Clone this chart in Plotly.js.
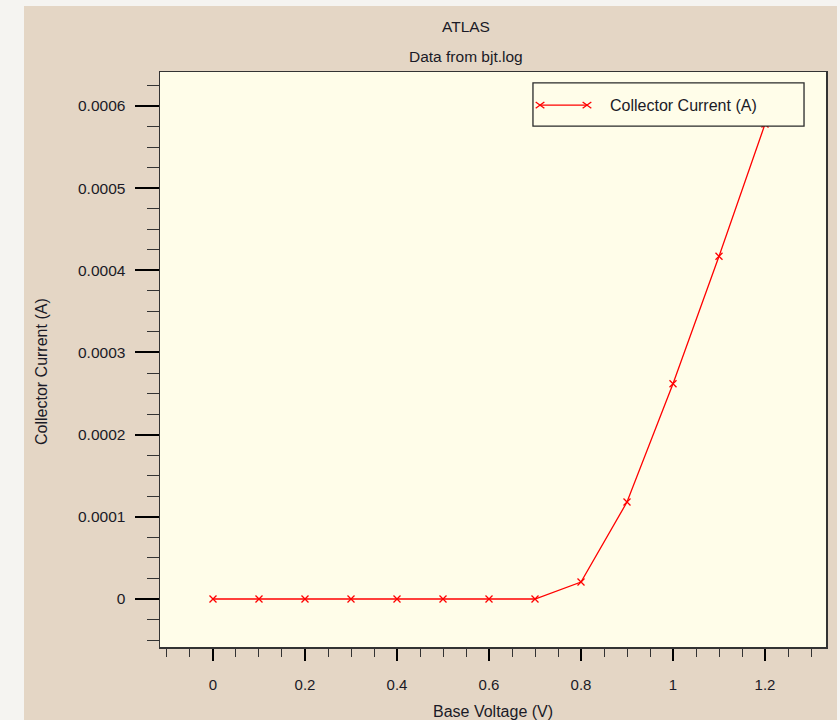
<!DOCTYPE html>
<html>
<head>
<meta charset="utf-8">
<script src="https://cdn.plot.ly/plotly-3.0.1.min.js"></script>
<style>
html, body { margin: 0; padding: 0; background: #f5f4f1; width: 840px; height: 720px; overflow: hidden; }
#chart { position: absolute; left: 24px; top: 6px; width: 813px; height: 714px; }
</style>
</head>
<body>
<div id="chart"></div>
<script>
// ---- data ----
const baseVoltage = [0, 0.1, 0.2, 0.3, 0.4, 0.5, 0.6, 0.7, 0.8, 0.9, 1.0, 1.1, 1.2];
const collectorCurrent = [0, 0, 0, 0, 0, 0, 0, 0, 0.0000207, 0.000118, 0.000262, 0.000417, 0.000578];
const seriesName = 'Collector Current (A)';
const titleText = 'ATLAS';
const subtitleText = 'Data from bjt.log';
const xTitle = 'Base Voltage (V)';
const yTitle = 'Collector Current (A)';

const FONT = 'Liberation Sans, Arial, sans-serif';
const TXT = '#1a1a26';
const RED = '#ff0000';

const trace = {
  x: baseVoltage,
  y: collectorCurrent,
  name: seriesName,
  type: 'scatter',
  mode: 'lines+markers',
  line: { color: RED, width: 1.3 },
  marker: { symbol: 'x-thin', size: 7, line: { color: RED, width: 1.3 }, color: RED },
  showlegend: false
};

// legend geometry (paper coordinates)
const lgX0 = 0.560, lgX1 = 0.967, lgY0 = 0.906, lgY1 = 0.981;
const lsX0 = 0.5706, lsX1 = 0.6411, lsY = 0.9425;
const mdx = 0.0065, mdy = 0.0055;
function xMark(cx, cy) {
  return [
    { type: 'line', xref: 'paper', yref: 'paper', x0: cx - mdx, x1: cx + mdx, y0: cy - mdy, y1: cy + mdy, line: { color: RED, width: 1.3 } },
    { type: 'line', xref: 'paper', yref: 'paper', x0: cx - mdx, x1: cx + mdx, y0: cy + mdy, y1: cy - mdy, line: { color: RED, width: 1.3 } }
  ];
}

const shapes = [
  { type: 'rect', xref: 'paper', yref: 'paper', x0: lgX0, x1: lgX1, y0: lgY0, y1: lgY1,
    line: { color: '#2a2a2a', width: 1.3 }, fillcolor: '#fffde9' },
  { type: 'line', xref: 'paper', yref: 'paper', x0: lsX0, x1: lsX1, y0: lsY, y1: lsY, line: { color: RED, width: 1.3 } }
].concat(xMark(lsX0, lsY), xMark(lsX1, lsY));

const layout = {
  width: 813,
  height: 714,
  margin: { l: 136, r: 11, t: 66, b: 73, pad: 0 },
  paper_bgcolor: '#e4d6c5',
  plot_bgcolor: '#fffde9',
  font: { family: FONT, size: 15, color: TXT },
  showlegend: false,
  xaxis: {
    range: [-0.1152, 1.3326],
    tickmode: 'linear', tick0: 0, dtick: 0.2,
    ticks: 'outside', ticklen: 12, tickwidth: 2, tickcolor: '#000',
    minor: { tick0: 0, dtick: 0.05, ticks: 'outside', ticklen: 8, tickwidth: 1, tickcolor: '#333', showgrid: false },
    showgrid: false, zeroline: false,
    showline: true, mirror: true, linecolor: '#333', linewidth: 1.5,
    tickfont: { family: FONT, size: 15, color: TXT },
    ticklabelstandoff: 11,
    fixedrange: true
  },
  yaxis: {
    range: [-0.0000584, 0.0006413],
    tickmode: 'linear', tick0: 0, dtick: 0.0001,
    tickformat: '.4~f',
    ticks: 'outside', ticklen: 24, tickwidth: 2, tickcolor: '#000',
    minor: { tick0: 0, dtick: 0.000025, ticks: 'outside', ticklen: 12, tickwidth: 1, tickcolor: '#333', showgrid: false },
    showgrid: false, zeroline: false,
    showline: true, mirror: true, linecolor: '#333', linewidth: 1.5,
    tickfont: { family: FONT, size: 15.5, color: TXT },
    ticklabelstandoff: 6,
    fixedrange: true
  },
  shapes: shapes,
  annotations: [
    { text: titleText, xref: 'paper', yref: 'paper', x: 0.4595, y: 1.0783, xanchor: 'center', yanchor: 'middle', showarrow: false, font: { family: FONT, size: 15.5, color: TXT } },
    { text: subtitleText, xref: 'paper', yref: 'paper', x: 0.4595, y: 1.0278, xanchor: 'center', yanchor: 'middle', showarrow: false, font: { family: FONT, size: 15.5, color: TXT } },
    { text: xTitle, xref: 'paper', yref: 'paper', x: 0.5, y: -0.113, xanchor: 'center', yanchor: 'middle', showarrow: false, font: { family: FONT, size: 16, color: TXT } },
    { text: yTitle, xref: 'paper', yref: 'paper', x: -0.1787, y: 0.48, xanchor: 'center', yanchor: 'middle', textangle: -90, showarrow: false, font: { family: FONT, size: 16, color: TXT } },
    { text: seriesName, xref: 'paper', yref: 'paper', x: 0.6727, y: lsY, xanchor: 'left', yanchor: 'middle', showarrow: false, font: { family: FONT, size: 16, color: TXT } }
  ]
};

Plotly.newPlot('chart', [trace], layout, { displayModeBar: false, staticPlot: true });
</script>
</body>
</html>
